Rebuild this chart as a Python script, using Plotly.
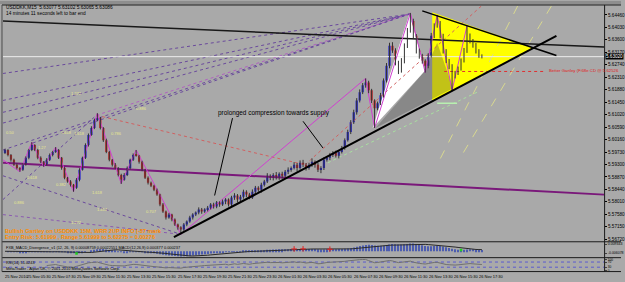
import plotly.graph_objects as go

W, H = 625, 282

# ---------------- DATA ----------------
first_open = 5.5970
closes = [
    5.5980, 5.5963, 5.5946, 5.5929, 5.5918, 5.5912, 5.5929, 5.5953, 5.5980, 5.5997,
    5.5980, 5.5953, 5.5939, 5.5929, 5.5946, 5.5963, 5.5973, 5.5980, 5.5953, 5.5918,
    5.5884, 5.5871, 5.5860, 5.5850, 5.5877, 5.5912, 5.5953, 5.5997, 5.6032, 5.6056,
    5.6083, 5.6090, 5.6056, 5.6014, 5.5973, 5.5946, 5.5929, 5.5918, 5.5894, 5.5877,
    5.5894, 5.5918, 5.5946, 5.5963, 5.5960, 5.5939, 5.5912, 5.5884, 5.5867, 5.5857,
    5.5843, 5.5826, 5.5792, 5.5768, 5.5747, 5.5757, 5.5740, 5.5723, 5.5713, 5.5706,
    5.5723, 5.5733, 5.5747, 5.5757, 5.5764, 5.5775, 5.5768, 5.5775, 5.5781, 5.5792,
    5.5785, 5.5799, 5.5792, 5.5802, 5.5809, 5.5792, 5.5816, 5.5823, 5.5809, 5.5819,
    5.5836, 5.5826, 5.5816, 5.5836, 5.5850, 5.5843, 5.5860, 5.5871, 5.5891, 5.5884,
    5.5894, 5.5884, 5.5898, 5.5891, 5.5905, 5.5912, 5.5918, 5.5929, 5.5918, 5.5936,
    5.5929, 5.5918, 5.5929, 5.5939, 5.5929, 5.5912, 5.5918, 5.5946, 5.5953, 5.5963,
    5.5970, 5.5960, 5.5973, 5.5987, 5.6014, 5.6042, 5.6076, 5.6110, 5.6151, 5.6179,
    5.6203, 5.6213, 5.6186, 5.6151, 5.6124, 5.6141, 5.6169, 5.6220, 5.6271, 5.6340,
    5.6323, 5.6282, 5.6254, 5.6288, 5.6340, 5.6391, 5.6425, 5.6374, 5.6323, 5.6306,
    5.6288, 5.6271, 5.6306, 5.6374, 5.6408, 5.6419, 5.6374, 5.6323, 5.6288, 5.6271,
    5.6237, 5.6247, 5.6261, 5.6288, 5.6323, 5.6374, 5.6357, 5.6340, 5.6323, 5.6306,
    5.6302]
upper_wick_pips = [
    4, 3, 3, 4, 5, 3, 6, 5, 4, 10,  3, 4, 5, 3, 6, 5, 4, 10, 3, 3,
    4, 3, 5, 3, 6, 5, 4, 6, 5, 6,   5, 17, 4, 3, 5, 4, 3, 6, 3, 4,
    6, 5, 4, 5, 17, 3, 4, 3, 5, 4,  3, 4, 3, 5, 3, 6, 3, 4, 3, 4,
    5, 4, 6, 5, 4, 7, 5, 4, 6, 5,   6, 5, 4, 7, 5, 4, 6, 8, 5, 6,
    7, 5, 6, 8, 6, 5, 7, 6, 9, 5,   6, 10, 5, 7, 6, 8, 5, 9, 6, 8,
    10, 6, 7, 12, 5, 7, 6, 9, 5, 7, 6, 8, 5, 7, 6, 8, 7, 9, 8, 10,
    8, 14, 6, 5, 4, 6, 8, 7, 9, 10, 12, 8, 6, 9, 8, 10, 28, 8, 6, 7,
    6, 5, 8, 10, 9, 27, 6, 7, 5, 6, 5, 6, 7, 8, 9, 34, 8, 6, 9, 5,
    4]
lower_wick_pips = [
    4, 5, 6, 4, 5, 7, 4, 3, 5, 4,   4, 5, 4, 7, 3, 4, 5, 3, 4, 6,
    5, 4, 6, 14, 4, 5, 3, 4, 5, 3,  4, 3, 5, 6, 4, 5, 6, 4, 5, 14,
    3, 4, 5, 4, 3, 6, 5, 4, 6, 5,   5, 4, 6, 5, 7, 4, 6, 5, 8, 17,
    5, 6, 4, 7, 5, 6, 8, 5, 7, 6,   7, 6, 8, 5, 9, 7, 6, 8, 10, 5,
    7, 9, 6, 5, 8, 7, 10, 6, 5, 8,  9, 6, 7, 10, 6, 8, 7, 5, 12, 6,
    8, 9, 6, 7, 10, 8, 12, 7, 6, 8, 7, 6, 9, 5, 6, 5, 7, 6, 8, 7,
    6, 8, 10, 9, 68, 7, 6, 8, 7, 9, 8, 10, 12, 7, 9, 8, 6, 9, 10, 11,
    10, 24, 9, 7, 8, 6, 9, 10, 8, 12, 51, 10, 8, 7, 6, 8, 9, 7, 10, 8,
    6]

# zigzag swing points (bar index, price)
zz_bar = [-0.67, 5, 9, 13, 17, 23, 31, 39, 44, 59, 121, 124, 136, 141, 145, 150, 155]
zz_price = [5.5946, 5.5905, 5.6007, 5.5922, 5.5990, 5.5836, 5.6107, 5.5864, 5.5980,
            5.5689, 5.6227, 5.6056, 5.6453, 5.6247, 5.6446, 5.6186, 5.6408]

# drawn objects: (bar0, price0, bar1, price1)
black_long = (-0.67, 5.6425, 201.0, 5.6335)
uptrend = (56.67, 5.5679, 185.0, 5.6374)
tri_top = (140.0, 5.6460, 185.0, 5.6306)
purple_line = (-0.67, 5.5936, 201.0, 5.5826)
callout_1 = (76.33, 5.6090, 70.33, 5.5823)
callout_2 = (100.0, 5.6079, 106.67, 5.5987)

yellow_bar = [143.33, 177.33, 143.33]
yellow_price = [5.6455, 5.6333, 5.6148]
white_bar = [123.33, 135.67, 141.0]
white_price = [5.6056, 5.6449, 5.6254]
shade_bar = [124.33, 141.0, 145.0, 150.33]
shade_price = [5.6056, 5.6254, 5.6350, 5.6193]

peak = (135.67, 5.6449)
fan_from = [(-0.67, 5.6244), (-0.67, 5.6151), (-0.67, 5.6110), (-0.67, 5.6073),
            (-0.67, 5.5980), (9.33, 5.6004)]
other_dotted = [
    ((-0.67, 5.5891, 59.0, 5.5689), "#6a4a9c"),
    ((-0.67, 5.5809, 30.67, 5.6100), "#6a4a9c"),
    ((-0.67, 5.5757, 59.0, 5.5689), "#8a5ab0"),
    ((30.67, 5.6100, 135.67, 5.6449), "#b060c0"),
    ((30.67, 5.6100, 100.67, 5.5929), "#d06060"),
    ((100.67, 5.5929, 161.67, 5.6494), "#d06060"),
    ((108.33, 5.5936, 158.33, 5.6179), "#a8e0a0"),
    ((147.33, 5.6251, 181.0, 5.6251), "#e03030"),
]
khaki_dashed = [(172.0, 5.6477, 145.0, 5.5929), (183.33, 5.6477, 152.33, 5.5946)]
green_seg = (145.0, 5.6141, 151.67, 5.6141)

fib_label_bar = [24, 45.7, 20.7, 25, 1.7, 37.3, 12.7, 9.3, 19, 31, 5, 32.7, 24, 49]
fib_label_price = [5.6175, 5.6124, 5.6042, 5.6038, 5.6042, 5.6038, 5.5990, 5.5884,
                   5.5860, 5.5833, 5.5799, 5.5775, 5.5730, 5.5768]
fib_label_text = ["1.272", "0.886", "0.618", "1.618", "0.50", "0.786", "1.27", "0.618",
                  "0.382", "1.618", "0.886", "1.414", "1.272", "0.707"]

time_labels = ["25 Nov 2010", "25 Nov 05:30", "25 Nov 07:30", "25 Nov 09:30", "25 Nov 11:30",
               "25 Nov 13:30", "25 Nov 15:30", "25 Nov 17:30", "25 Nov 19:30", "25 Nov 21:30",
               "25 Nov 23:30", "26 Nov 01:30", "26 Nov 03:30", "26 Nov 05:30", "26 Nov 07:30",
               "26 Nov 09:30", "26 Nov 11:30", "26 Nov 13:30", "26 Nov 15:30", "26 Nov 17:30"]
time_label_bar = [-0.6, 6.7, 15.1, 23.5, 32.0, 40.4, 48.8, 57.3, 65.7, 74.1,
                  82.6, 91.0, 99.4, 107.8, 116.3, 124.7, 133.1, 141.6, 150.0, 158.4]

# ---------------- derived ----------------
n = len(closes)
bars = list(range(n))
opens = [first_open] + closes[:-1]
highs = [max(o, c) + u * 0.0001 for o, c, u in zip(opens, closes, upper_wick_pips)]
lows = [min(o, c) - l * 0.0001 for o, c, l in zip(opens, closes, lower_wick_pips)]


def ema(vals, k):
    a = 2.0 / (k + 1)
    out = [vals[0]]
    for v in vals[1:]:
        out.append(a * v + (1 - a) * out[-1])
    return out


e12, e26 = ema(closes, 12), ema(closes, 26)
macd = [a - b for a, b in zip(e12, e26)]
signal = []
for i in range(n):
    w = macd[max(0, i - 8):i + 1]
    signal.append(sum(w) / len(w))

rsi = [None] * n
gains = [max(closes[i] - closes[i - 1], 0) for i in range(1, n)]
losses = [max(closes[i - 1] - closes[i], 0) for i in range(1, n)]
ag = sum(gains[:14]) / 14
al = sum(losses[:14]) / 14
rsi[14] = 100 - 100 / (1 + ag / al) if al > 0 else 100
for i in range(15, n):
    ag = (ag * 13 + gains[i - 1]) / 14
    al = (al * 13 + losses[i - 1]) / 14
    rsi[i] = 100 - 100 / (1 + ag / al) if al > 0 else 100

# ---------------- figure ----------------
BG = "#a9a9a9"
FONT = "Liberation Sans, Arial, sans-serif"
fig = go.Figure()


def seg(b0, p0, b1, p1, color, width=1, dash="solid", yaxis="y"):
    fig.add_trace(go.Scatter(x=[b0, b1], y=[p0, p1], mode="lines", yaxis=yaxis,
                             line=dict(color=color, width=width, dash=dash),
                             hoverinfo="skip", showlegend=False))


def poly(bx, py, color):
    fig.add_trace(go.Scatter(x=bx + [bx[0]], y=py + [py[0]], mode="lines", fill="toself",
                             fillcolor=color, line=dict(width=0, color=color),
                             hoverinfo="skip", showlegend=False))


poly(yellow_bar, yellow_price, "#ffff00")
poly(white_bar, white_price, "#ffffff")
poly(shade_bar, shade_price, "rgba(70,70,70,0.33)")

for b0, p0 in fan_from:
    seg(b0, p0, peak[0], peak[1], "#6a4a9c", 1, "dot")
for (b0, p0, b1, p1), col in other_dotted:
    seg(b0, p0, b1, p1, col, 1, "dot")
for b0, p0, b1, p1 in khaki_dashed:
    seg(b0, p0, b1, p1, "#d8d890", 1, "dash")
seg(*green_seg, "#b8f0b0", 1.5)

seg(*purple_line, "#7a187a", 2)
seg(-0.67, closes[-1], 201, closes[-1], "#eeeeee", 1)
seg(*black_long, "#181818", 1.5)

fig.add_trace(go.Scatter(x=zz_bar, y=zz_price, mode="lines", line=dict(color="#d040d0", width=1),
                         hoverinfo="skip", showlegend=False))

# wicks
wx, wy = [], []
for i in range(n):
    wx += [i, i, None]
    wy += [lows[i], highs[i], None]
fig.add_trace(go.Scatter(x=wx, y=wy, mode="lines", line=dict(color="#333333", width=1),
                         hoverinfo="skip", showlegend=False))
# bodies
body_h = [max(abs(c - o), 0.00004) for o, c in zip(opens, closes)]
body_b = [min(o, c) for o, c in zip(opens, closes)]
body_col = ["#2424cc" if c >= o else "#c42a2a" for o, c in zip(opens, closes)]
fig.add_trace(go.Bar(x=bars, y=body_h, base=body_b, width=0.75, marker=dict(color=body_col, line=dict(width=0)),
                     hoverinfo="skip", showlegend=False))

seg(*uptrend, "#000000", 2)
seg(*tri_top, "#000000", 1.5)
seg(*callout_1, "#000000", 1)
seg(*callout_2, "#000000", 1)

# MACD panel
fig.add_trace(go.Bar(x=bars, y=macd, yaxis="y2", width=0.35, marker=dict(color="#4c5cb0", line=dict(width=0)),
                     hoverinfo="skip", showlegend=False))
fig.add_trace(go.Scatter(x=bars, y=signal, yaxis="y2", mode="lines", line=dict(color="#2a2a2a", width=1),
                         hoverinfo="skip", showlegend=False))
div_red = [97, 100, 109]
div_green = [24, 153]
fig.add_trace(go.Scatter(x=div_red, y=[macd[i] for i in div_red], yaxis="y2", mode="markers",
                         marker=dict(symbol="cross-thin", size=4, line=dict(color="#e02020", width=1)),
                         hoverinfo="skip", showlegend=False))
fig.add_trace(go.Scatter(x=div_green, y=[macd[i] for i in div_green], yaxis="y2", mode="markers",
                         marker=dict(symbol="square", size=2.5, color="#20d020"),
                         hoverinfo="skip", showlegend=False))

# RSI panel
seg(-0.67, 70, 201, 70, "#5a5ad0", 1, "dot", "y3")
seg(-0.67, 30, 201, 30, "#5a5ad0", 1, "dot", "y3")
fig.add_trace(go.Scatter(x=bars, y=rsi, yaxis="y3", mode="lines", line=dict(color="#707070", width=1),
                         hoverinfo="skip", showlegend=False))


# axes geometry (pixels -> paper)
def px(xp):
    return xp / W


def py(yp):
    return 1 - yp / H


mhi, mlo = max(macd), min(macd)
price_ticks = [5.5672 + 0.0043 * k for k in range(20)]

fig.update_layout(
    width=W, height=H, margin=dict(l=0, r=0, t=0, b=0),
    paper_bgcolor=BG, plot_bgcolor=BG, barmode="overlay", showlegend=False,
    font=dict(family=FONT, color="#000000", size=5),
    xaxis=dict(domain=[px(3), px(608)], range=[-0.67, 201], anchor="free", position=py(272),
               showticklabels=False, ticks="", showgrid=False, zeroline=False, showline=False),
    yaxis=dict(domain=[py(242), py(5)], range=[5.5665, 5.6477], side="right", anchor="free",
               position=px(608), tickvals=price_ticks, ticktext=[f"{v:.5f}" for v in price_ticks],
               tickfont=dict(size=4.6), ticks="outside", ticklen=2, tickcolor="#000",
               showgrid=False, zeroline=False, showline=False),
    yaxis2=dict(domain=[py(258), py(243)], range=[mlo * 1.15, mhi * 1.15], side="right",
                anchor="free", position=px(608), tickvals=[mhi * 0.9, mlo * 0.35],
                ticktext=[f"{mhi:.6f}", f"{mlo:.6f}"], tickfont=dict(size=3.5),
                ticks="outside", ticklen=2, showgrid=False, zeroline=False, showline=False),
    yaxis3=dict(domain=[py(272), py(259)], range=[0, 100], side="right", anchor="free",
                position=px(608), tickvals=[90, 70, 30, 5], ticktext=["100", "70", "30", "0"],
                tickfont=dict(size=3.2),
                ticks="outside", ticklen=2, showgrid=False, zeroline=False, showline=False),
)

shapes = []
# frame lines
shapes.append(dict(type="rect", xref="paper", yref="paper", x0=0, x1=1, y0=py(3), y1=1,
                   fillcolor="#8e8e8e", line=dict(width=0)))
for yy in [4, 242.5, 258.5, 272.5]:
    shapes.append(dict(type="line", xref="paper", yref="paper", x0=px(2), x1=1, y0=py(yy), y1=py(yy),
                       line=dict(color="#1a1a1a", width=1)))
shapes.append(dict(type="line", xref="paper", yref="paper", x0=px(608.5), x1=px(608.5), y0=py(272.5),
                   y1=py(4), line=dict(color="#1a1a1a", width=1)))
shapes.append(dict(type="line", xref="paper", yref="paper", x0=px(2), x1=px(2), y0=py(272.5),
                   y1=py(4), line=dict(color="#4a4a4a", width=1)))
fig.update_layout(shapes=shapes)

ann = []


def txt(x, y, s, size=5, color="#000", xref="paper", yref="paper", xanchor="left", bold=False, **kw):
    if bold:
        s = "<b>" + s + "</b>"
    ann.append(dict(x=x, y=y, xref=xref, yref=yref, text=s, showarrow=False, xanchor=xanchor,
                    yanchor="middle", font=dict(size=size, color=color, family=FONT), **kw))


txt(px(4), py(7), "USDDKK,M15  5.63077 5.63102 5.63065 5.63086", 4.8)
txt(px(4), py(12.5), "14 minutes 11 seconds left to bar end", 4.8)
txt(90.3, 5.6107, "prolonged compression towards supply", 6.4, xref="x", yref="y", xanchor="center")
txt(px(3), py(232), "Bullish Gartley on USDDKK 15M, WRR 2UP INFO (-87 mark", 5.6, "#ff8c00", bold=True)
txt(px(3), py(238), "Entry Risk: 5.61999 , Range 5.61999 to 5.62275 = 0.00276", 5.6, "#ff8c00", bold=True)
txt(181.8, 5.6253, "Better Gartley (F.68e CD @ 5.62526", 4.3, "#e02020", xref="x", yref="y")
txt(px(4), py(248), "FXB_MACD_Divergence_v1 (12, 26, 9) 0.00008759 0.00022551 MACD(12,26,9) 0.000377 0.000237", 3.9)
txt(px(4), py(263), "RSI(14) 51.0243", 3.9)
txt(px(4), py(269.5), "MetaTrader - Alpari UK, \u00a9 2001-2010 MetaQuotes Software Corp.", 3.9)
for b, pr, s in zip(fib_label_bar, fib_label_price, fib_label_text):
    txt(b, pr, s, 4, "#e8e890", xref="x", yref="y", xanchor="center")
for b, s in zip(time_label_bar, time_labels):
    txt(b, py(277.5), s, 4, xref="x")
ann.append(dict(x=px(609), y=closes[-1], xref="paper", yref="y", text=f"{closes[-1]:.5f}",
                showarrow=False, xanchor="left", yanchor="middle", bgcolor="#000000", borderpad=0,
                font=dict(size=4.6, color="#ffffff", family=FONT)))
fig.update_layout(annotations=ann)

fig.write_html("out.html")
